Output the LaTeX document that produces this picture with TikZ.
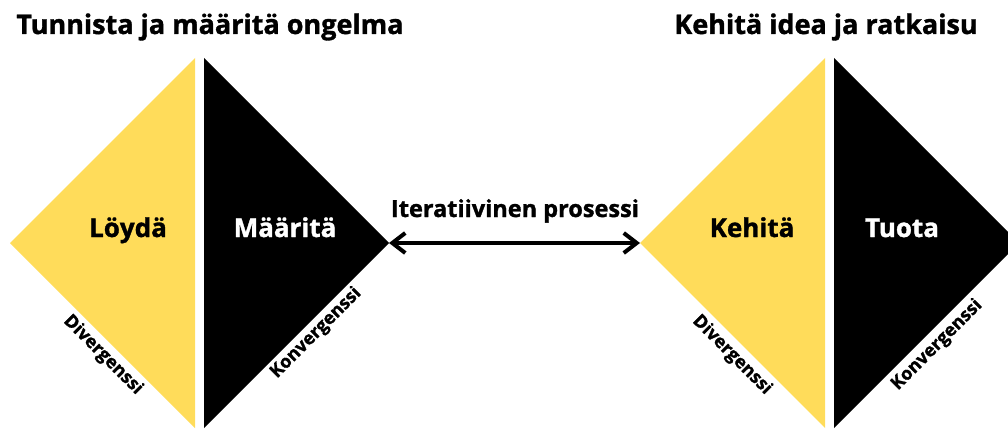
\documentclass[tikz,border=0pt]{standalone}
\usepackage{fontspec}
\setmainfont{Open Sans}[BoldFeatures={FakeBold=1.3}]
\usetikzlibrary{arrows.meta}
\definecolor{ideayellow}{HTML}{FFDC5A}
\begin{document}
\begin{tikzpicture}[x=1pt, y=-1pt,
    title/.style={anchor=base, font=\bfseries\fontsize{27}{30}\selectfont},
    phase/.style={anchor=base, font=\bfseries\fontsize{26}{28}\selectfont},
    side/.style={font=\bfseries\fontsize{18}{20}\selectfont},
    loop/.style={line width=4pt, line cap=round, line join=round,
        arrows={Straight Barb[length=13pt, width=20pt]-Straight Barb[length=13pt, width=20pt]}}
]
\clip (0,0) rectangle (1008,428);

% Tunnista ja maarita ongelma
\node[title] (ongelma) at (210,34) {Tunnista ja määritä ongelma};
\fill[ideayellow] (10,243) -- (195,58) -- (195,428) -- cycle;
\fill[black] (204,58) -- (389,243) -- (204,428) -- cycle;
\coordinate (ltip) at (389,243);
\node[phase] (loyda) at (128,237) {Löydä};
\node[phase, text=white] (maarita) at (285,237) {Määritä};
\node[side, rotate=-45] (ldiv) at (103,355) {Divergenssi};
\node[side, rotate=45] (lkonv) at (316,333) {Konvergenssi};

% Kehita idea ja ratkaisu
\node[title] (ratkaisu) at (826,34) {Kehitä idea ja ratkaisu};
\fill[ideayellow] (640,243) -- (825,58) -- (825,428) -- cycle;
\fill[black] (834,58) -- (1019,243) -- (834,428) -- cycle;
\coordinate (rtip) at (640,243);
\node[phase] (kehita) at (752,237) {Kehitä};
\node[phase, text=white] (tuota) at (902,237) {Tuota};
\node[side, rotate=-45] (rdiv) at (732,355) {Divergenssi};
\node[side, rotate=45] (rkonv) at (937,345) {Konvergenssi};

% Iteraatio
\node[anchor=base, font=\bfseries\fontsize{23.5}{26}\selectfont] (iter) at (515,217) {Iteratiivinen prosessi};
\draw[loop] (ltip) -- (rtip);
\end{tikzpicture}
\end{document}
